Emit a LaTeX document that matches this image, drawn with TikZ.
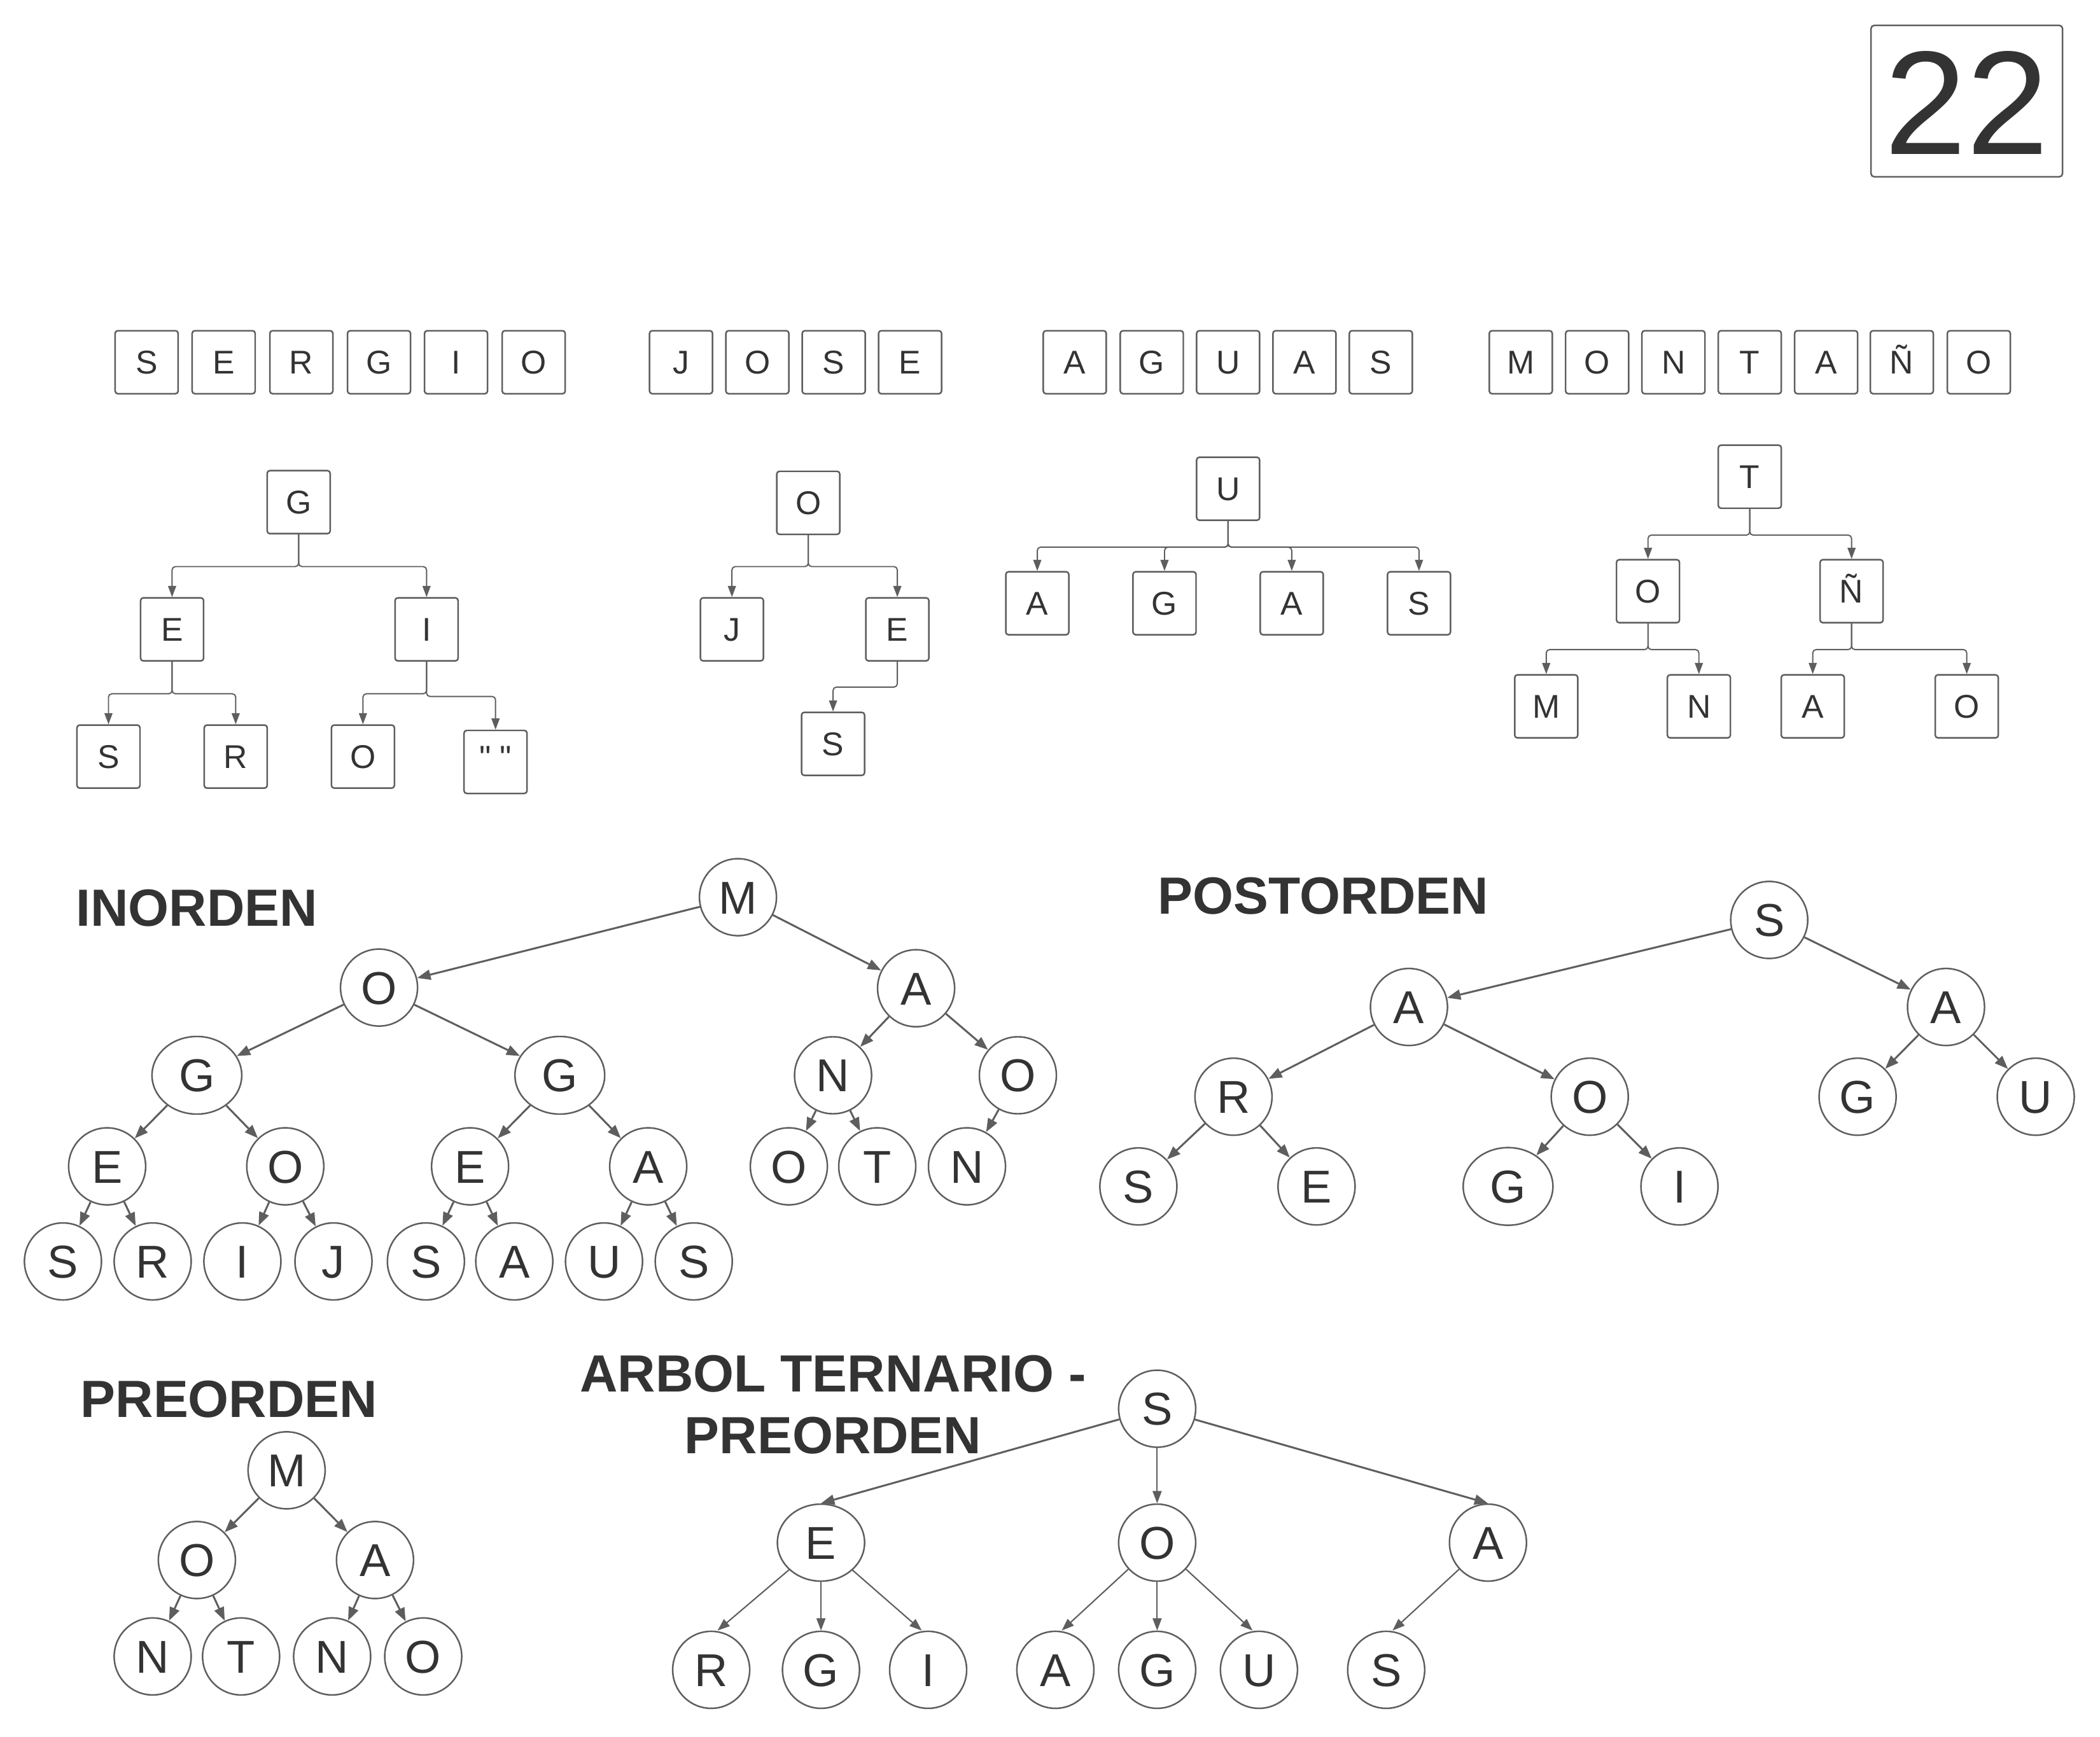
\documentclass[tikz,border=0pt]{standalone}
\usepackage{fontspec}
\setmainfont{Liberation Sans}
\newfontfamily\plainfont{Liberation Sans}
\usetikzlibrary{arrows.meta,shapes.geometric}
\definecolor{ln}{HTML}{5E5E5E}
\definecolor{tx}{HTML}{333333}
\tikzset{
 box/.style={draw=ln, line width=0.7pt, rounded corners=1.2pt, minimum size=0.99cm, inner sep=0pt, text=tx, font=\fontsize{14.7}{17}\selectfont, text height=10.5pt, text depth=0pt},
 circ/.style={draw=ln, line width=0.7pt, circle, minimum size=1.21cm, inner sep=0pt, text=tx, font=\fontsize{20.6}{24}\selectfont, text height=14.75pt, text depth=0pt},
 ell/.style={circ, ellipse, minimum width=1.41cm, minimum height=1.22cm},
 ellt/.style={circ, ellipse, minimum width=1.37cm, minimum height=1.21cm},
 bconn/.style={draw=ln, line width=0.55pt, rounded corners=1.5pt, -{Triangle[length=5pt,width=3.6pt]}},
 edge/.style={draw=ln, line width=0.85pt, -{Triangle[length=6pt,width=4.5pt]}},
 thinedge/.style={draw=ln, line width=0.6pt, -{Triangle[length=5.5pt,width=4pt]}},
 title/.style={text=tx, font=\bfseries\fontsize{23.4}{27.6}\selectfont, inner sep=0pt},
 bignum/.style={draw=ln, line width=0.7pt, rounded corners=1.5pt, minimum width=3.01cm, minimum height=2.38cm, inner sep=0pt, text=tx, font=\fontsize{66}{70}\selectfont, text height=47.3pt, text depth=0pt}
}
\begin{document}
\begin{tikzpicture}[x=0.021046cm, y=-0.021046cm]
\fill[white] (0,0) rectangle (1568,1297);
\useasboundingbox (0,0) rectangle (1568,1297);

% number
\node[bignum] (num) at (1468.5,75.5) {22};

% top rows of letters
\foreach \x/\l [count=\i] in {109.5/S,167/E,225/R,283/G,340.5/I,398.5/O}
  \node[box] (wa\i) at (\x,270.5) {\l};
\foreach \x/\l [count=\i] in {508.5/J,565.5/O,622.5/S,679.5/E}
  \node[box] (wb\i) at (\x,270.5) {\l};
\foreach \x/\l [count=\i] in {802.5/A,860/G,917/U,974/A,1031/S}
  \node[box] (wc\i) at (\x,270.5) {\l};
\foreach \x/\l [count=\i] in {1135.5/M,1192.5/O,1249.5/N,1306.5/T,1363.5/A,1420/Ñ,1477.5/O}
  \node[box] (wd\i) at (\x,270.5) {\l};

% tree SERGIO
\node[box] (g1) at (223,375) {G};
\node[box] (e1) at (128.5,470) {E};
\node[box] (i1) at (318.5,470) {I};
\node[box] (s1) at (81,565) {S};
\node[box] (r1) at (176,565) {R};
\node[box] (o1) at (271,565) {O};
\node[box] (q1) at (370,569) {\raisebox{2pt}{\plainfont " "}};
\draw[bconn] (g1.south) -- ++(0,24) -| (e1.north);
\draw[bconn] (g1.south) -- ++(0,24) -| (i1.north);
\draw[bconn] (e1.south) -- ++(0,24) -| (s1.north);
\draw[bconn] (e1.south) -- ++(0,24) -| (r1.north);
\draw[bconn] (i1.south) -- ++(0,24) -| (o1.north);
\draw[bconn] (i1.south) -- ++(0,26) -| (q1.north);

% tree JOSE
\node[box] (o2) at (603.5,375.5) {O};
\node[box] (j2) at (546.5,470) {J};
\node[box] (e2) at (670,470) {E};
\node[box] (s2) at (622,555.5) {S};
\draw[bconn] (o2.south) -- ++(0,23.5) -| (j2.north);
\draw[bconn] (o2.south) -- ++(0,23.5) -| (e2.north);
\draw[bconn] (e2.south) -- ++(0,19) -| (s2.north);

% tree AGUAS
\node[box] (u3) at (917,365) {U};
\node[box] (a3) at (774.5,450.5) {A};
\node[box] (g3) at (869.5,450.5) {G};
\node[box] (b3) at (964.5,450.5) {A};
\node[box] (s3) at (1059.5,450.5) {S};
\foreach \c in {a3,g3,b3,s3}
  \draw[bconn] (u3.south) -- ++(0,19.5) -| (\c.north);

% tree MONTANO
\node[box] (t4) at (1306.5,356) {T};
\node[box] (o4) at (1230.5,441.5) {O};
\node[box] (n4) at (1382.5,441.5) {Ñ};
\node[box] (m4) at (1154.5,527.5) {M};
\node[box] (k4) at (1268.5,527.5) {N};
\node[box] (a4) at (1353.5,527.5) {A};
\node[box] (p4) at (1468.5,527.5) {O};
\draw[bconn] (t4.south) -- ++(0,19.5) -| (o4.north);
\draw[bconn] (t4.south) -- ++(0,19.5) -| (n4.north);
\draw[bconn] (o4.south) -- ++(0,19.5) -| (m4.north);
\draw[bconn] (o4.south) -- ++(0,19.5) -| (k4.north);
\draw[bconn] (n4.south) -- ++(0,19.5) -| (a4.north);
\draw[bconn] (n4.south) -- ++(0,19.5) -| (p4.north);

% INORDEN
\node[title] (tin) at (147,678) {INORDEN};
\node[circ] (im) at (551,670) {M};
\node[circ] (io) at (283,737.5) {O};
\node[circ] (ia) at (684,738) {A};
\node[ell] (ig) at (147,803) {G};
\node[ell] (ig2) at (418,803) {G};
\node[circ] (in) at (622,803) {N};
\node[circ] (io2) at (760,803) {O};
\node[circ] (ie) at (80,871) {E};
\node[circ] (io3) at (213,871) {O};
\node[circ] (ie2) at (351,871) {E};
\node[circ] (ia2) at (484,871) {A};
\node[circ] (io4) at (589,871) {O};
\node[circ] (it) at (655,871) {T};
\node[circ] (in2) at (722,871) {N};
\node[circ] (l1) at (47,942) {S};
\node[circ] (l2) at (114,942) {R};
\node[circ] (l3) at (181,942) {I};
\node[circ] (l4) at (249,942) {J};
\node[circ] (l5) at (318,942) {S};
\node[circ] (l6) at (384,942) {A};
\node[circ] (l7) at (451,942) {U};
\node[circ] (l8) at (518,942) {S};
\draw[edge] (im) -- (io);
\draw[edge] (im) -- (ia);
\draw[edge] (io) -- (ig);
\draw[edge] (io) -- (ig2);
\draw[edge] (ia) -- (in);
\draw[edge] (ia) -- (io2);
\draw[edge] (ig) -- (ie);
\draw[edge] (ig) -- (io3);
\draw[edge] (ig2) -- (ie2);
\draw[edge] (ig2) -- (ia2);
\draw[edge] (in) -- (io4);
\draw[edge] (in) -- (it);
\draw[edge] (io2) -- (in2);
\draw[edge] (ie) -- (l1);
\draw[edge] (ie) -- (l2);
\draw[edge] (io3) -- (l3);
\draw[edge] (io3) -- (l4);
\draw[edge] (ie2) -- (l5);
\draw[edge] (ie2) -- (l6);
\draw[edge] (ia2) -- (l7);
\draw[edge] (ia2) -- (l8);

% POSTORDEN
\node[title] (tpost) at (988,669) {POSTORDEN};
\node[circ] (ps) at (1321,687) {S};
\node[circ] (pa) at (1052,752) {A};
\node[circ] (pa2) at (1453,752) {A};
\node[circ] (pr) at (921,819) {R};
\node[circ] (po) at (1187,819) {O};
\node[circ] (pg) at (1387,819) {G};
\node[circ] (pu) at (1520,819) {U};
\node[circ] (ps2) at (850,886) {S};
\node[circ] (pe) at (983,886) {E};
\node[ell] (pg2) at (1126,886) {G};
\node[circ] (pi) at (1254,886) {I};
\draw[edge] (ps) -- (pa);
\draw[edge] (ps) -- (pa2);
\draw[edge] (pa) -- (pr);
\draw[edge] (pa) -- (po);
\draw[edge] (pa2) -- (pg);
\draw[edge] (pa2) -- (pu);
\draw[edge] (pr) -- (ps2);
\draw[edge] (pr) -- (pe);
\draw[edge] (po) -- (pg2);
\draw[edge] (po) -- (pi);

% PREORDEN
\node[title] (tpre) at (171,1045) {PREORDEN};
\node[circ] (rm) at (214,1098) {M};
\node[circ] (ro) at (147,1165) {O};
\node[circ] (ra) at (280,1165) {A};
\node[circ] (rn) at (114,1237) {N};
\node[circ] (rt) at (180,1237) {T};
\node[circ] (rn2) at (248,1237) {N};
\node[circ] (ro2) at (316,1237) {O};
\draw[edge] (rm) -- (ro);
\draw[edge] (rm) -- (ra);
\draw[edge] (ro) -- (rn);
\draw[edge] (ro) -- (rt);
\draw[edge] (ra) -- (rn2);
\draw[edge] (ra) -- (ro2);

% ARBOL TERNARIO
\node[title, align=center] (tter) at (622,1049) {ARBOL TERNARIO -\\PREORDEN};
\node[circ] (ts) at (864,1052) {S};
\node[ellt] (te) at (613,1152) {E};
\node[circ] (to) at (864,1152) {O};
\node[circ] (ta) at (1111,1152) {A};
\node[circ] (tr) at (531,1247) {R};
\node[circ] (tg) at (613,1247) {G};
\node[circ] (ti) at (693,1247) {I};
\node[circ] (ta2) at (788,1247) {A};
\node[circ] (tg2) at (864,1247) {G};
\node[circ] (tu) at (940,1247) {U};
\node[circ] (ts2) at (1035,1247) {S};
\draw[edge] (ts) -- (te.north);
\draw[thinedge] (ts) -- (to);
\draw[edge] (ts) -- (ta.north);
\draw[thinedge] (te) -- ([xshift=0.1cm]tr.north);
\draw[thinedge] (te) -- (tg);
\draw[thinedge] (te) -- ([xshift=-0.1cm]ti.north);
\draw[thinedge] (to) -- ([xshift=0.1cm]ta2.north);
\draw[thinedge] (to) -- (tg2);
\draw[thinedge] (to) -- ([xshift=-0.1cm]tu.north);
\draw[thinedge] (ta) -- ([xshift=0.1cm]ts2.north);
\end{tikzpicture}
\end{document}
